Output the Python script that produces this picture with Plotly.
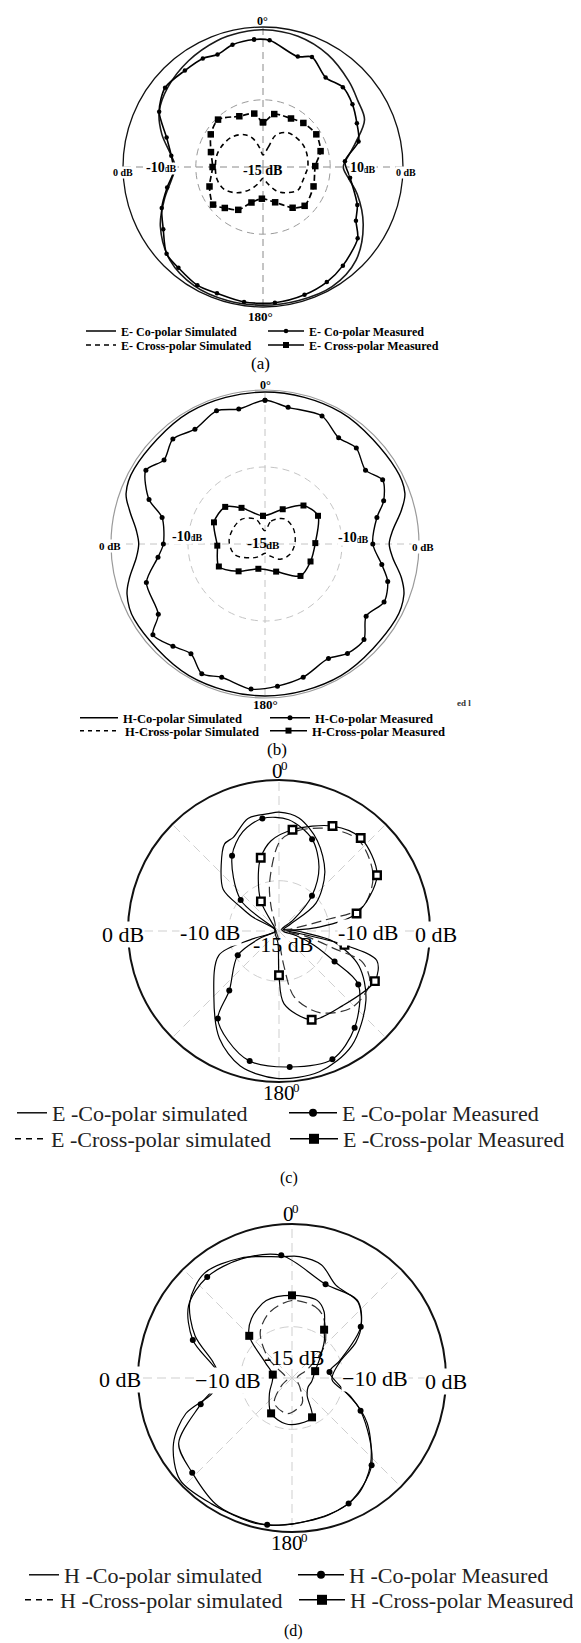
import plotly.graph_objects as go

W, H = 581, 1643
SERIF = "Liberation Serif"

# ---------------- (a) E-plane, values in dB (range -15 .. 0) ----------------
a_co_sim_theta = [0, 15, 30, 45, 55, 65, 75, 82, 90, 98, 106, 120, 135, 150, 165, 180, 195, 210, 225, 240,
                  252, 262, 270, 278, 288, 298, 310, 325, 340, 350, 360]
a_co_sim_db = [-0.3, -0.5, -1.1, -2.0, -2.6, -3.0, -4.7, -5.7, -6.4, -5.7, -4.5, -2.6, -0.9, -0.2, -0.2, -0.2,
               -0.2, -0.3, -0.9, -2.3, -3.9, -5.1, -5.6, -5.0, -3.6, -2.4, -1.7, -1.1, -0.6, -0.4, -0.3]
a_co_meas_theta = [356, 3, 17.5, 24, 35, 45, 55, 65, 75, 86, 97, 112, 120, 127, 141, 151, 162, 175, 188, 200,
                   209, 220, 228, 238, 248, 258, 267, 277, 287, 298, 309, 321, 331, 338, 346, 356]
a_co_meas_db = [-1.3, -1.4, -2.6, -2.1, -3.3, -2.9, -3.3, -3.9, -4.4, -6.2, -5.6, -4.1, -3.5, -2.3, -1.4, -0.9,
                -0.6, -0.4, -0.4, -0.6, -0.5, -0.9, -1.1, -2.4, -3.3, -4.5, -5.4, -5.1, -4.2, -2.4, -1.5, -1.7,
                -1.7, -2.0, -1.5, -1.3]
a_cx_sim_theta = [0, 15, 22, 35, 45, 60, 74, 90, 100, 112, 123, 140, 151, 165, 180, 195, 210, 225, 240, 255,
                  270, 285, 300, 315, 330, 340, 350, 360]
a_cx_sim_db = [-13.7, -12.8, -11.3, -10.5, -10.3, -10.1, -10.1, -10.2, -10.4, -10.5, -10.5, -11.4, -12.1, -13.2,
               -13.8, -13.2, -12.2, -11.1, -10.2, -9.9, -9.9, -9.9, -10.1, -10.4, -11.0, -11.7, -12.9, -13.7]
a_cx_meas_theta = [0, 12, 30, 42.5, 58.5, 74.6, 89, 111, 133, 144, 161, 182, 198, 210, 223, 233, 250, 270, 286,
                   302, 316.5, 335, 350.7, 360]
a_cx_meas_db = [-10.2, -9.2, -9.0, -8.6, -8.3, -8.6, -9.4, -9.2, -8.9, -9.6, -11.0, -11.6, -11.0, -9.7, -9.0,
                -8.3, -8.9, -9.6, -9.2, -8.4, -8.0, -9.0, -9.2, -10.2]

# ---------------- (b) H-plane ----------------
b_co_sim_theta = [0, 30, 60, 70, 76, 84, 90, 96, 104, 110, 120, 150, 180, 210, 240, 250, 256, 264, 270, 276,
                  284, 290, 300, 330, 360]
b_co_sim_db = [-0.2, -0.2, -0.3, -0.5, -1.3, -2.5, -2.9, -2.5, -1.3, -0.6, -0.3, -0.2, -0.2, -0.2, -0.3, -0.7,
               -1.4, -2.4, -2.7, -2.4, -1.4, -0.6, -0.3, -0.2, -0.2]
b_co_meas_theta = [0, 9.6, 24, 34.7, 43.6, 53.7, 61.4, 70, 76.7, 90, 100, 107, 116, 125.5, 134, 143, 151, 164,
                   175, 185.5, 198, 206, 214, 222, 231, 236.6, 252, 263, 270, 284.4, 291, 301.8, 309.8, 318.7,
                   328.6, 340, 349, 360]
b_co_meas_db = [-1.0, -1.5, -1.35, -2.4, -2.1, -2.85, -1.95, -2.7, -3.8, -4.5, -3.45, -2.5, -2.1, -2.9, -1.6,
                -1.65, -2.25, -1.5, -1.1, -0.8, -1.35, -0.95, -2.1, -1.6, -0.95, -2.55, -2.85, -4.5, -5.1,
                -4.65, -2.9, -1.35, -2.2, -1.4, -1.9, -1.2, -1.6, -1.0]
b_cx_sim_theta = [0, 15, 38, 60, 79, 95, 114, 135, 154, 180, 205, 225, 250, 274, 295, 317, 340, 360]
b_cx_sim_db = [-13.7, -12.7, -11.9, -11.85, -12.0, -12.15, -12.4, -12.9, -13.65, -14.1, -13.65, -13.1, -11.9,
               -11.5, -11.55, -11.7, -12.45, -13.7]
b_cx_meas_theta = [356, 27, 45, 62, 89, 111, 132, 158, 195, 224, 244, 268, 293, 313, 327, 356]
b_cx_meas_db = [-12.25, -11.2, -9.7, -9.15, -10.1, -10.25, -10.35, -12.1, -12.5, -11.3, -10.0, -10.35, -9.6,
                -9.7, -10.8, -12.25]

# ---------------- (c) E-plane ----------------
c_co_sim_theta = [0, 10, 23, 38, 53, 59, 70, 80, 94, 101, 113.5, 128.6, 147.7, 164, 181, 196, 209, 224.7, 248,
                  253, 260, 290, 298, 302, 306.6, 318.7, 328, 334, 344.6, 355, 360]
c_co_sim_db = [-3.2, -3.6, -5.25, -7.6, -10.4, -13.65, -14.55, -14.1, -12.4, -9.45, -6.35, -3.95, -1.5, -0.45,
               -0.35, -1.05, -2.8, -5.8, -8.55, -12.0, -14.55, -14.55, -12.0, -10.5, -8.1, -6.3, -4.8, -4.65,
               -3.4, -3.3, -3.2]
c_co_meas_theta = [328, 340, 351.6, 365, 379.8, 392, 403, 412, 420, 455, 465, 472, 478.8, 484, 502, 517.4, 535.5,
                   552.7, 565, 575, 579.9, 599.5, 610, 625, 655, 669, 688]
c_co_meas_db = [-6.2, -4.5, -3.7, -3.9, -5.3, -7.5, -10.2, -13.2, -14.7, -14.55, -13.2, -11.25, -8.7, -5.5, -2.8,
                -1.2, -1.45, -1.75, -3.0, -4.4, -7.3, -10.25, -13.2, -14.7, -14.55, -10.1, -6.2]
c_co_dots_theta = [328, 351.6, 19.8, 43, 118.8, 124, 142, 157.4, 175.5, 192.7, 215, 219.9, 239.5, 309]
c_co_dots_db = [-6.2, -3.7, -5.3, -10.2, -8.7, -5.5, -2.8, -1.2, -1.45, -1.75, -4.4, -7.3, -10.25, -10.1]
c_cx_sim_theta = [0.7, 10.7, 26.6, 41.5, 59.5, 73.8, 76.7, 80, 90, 101, 107.6, 110.5, 120, 136.4, 153.6, 166.9,
                  172, 178, 200, 300, 330, 342, 349, 360.7]
c_cx_sim_db = [-6.05, -4.85, -3.65, -3.0, -4.15, -6.35, -10.5, -13.5, -14.55, -12.35, -9.3, -6.15, -4.6, -4.5,
               -5.95, -8.25, -11.5, -13.8, -14.55, -14.55, -14.25, -12.45, -10.1, -6.05]
c_cx_meas_theta = [328.6, 340, 346, 355, 367.6, 387, 401.3, 420.4, 437.3, 445, 448, 455, 462, 466.8, 477.6, 499.5,
                   519.8, 536, 540, 545, 600, 660, 675, 688.6]
c_cx_meas_db = [-11.55, -9.0, -7.5, -6.0, -4.85, -3.3, -2.7, -3.8, -7.1, -11.25, -14.25, -13.5, -8.35, -4.85,
                -4.25, -5.25, -5.6, -7.75, -10.6, -13.8, -14.55, -14.55, -14.25, -11.55]
c_cx_sq_theta = [328.6, 346, 7.6, 27, 41.3, 60.4, 77.3, 102, 117.6, 159.8, 180]
c_cx_sq_db = [-11.55, -7.5, -4.85, -3.3, -2.7, -3.8, -7.1, -8.35, -4.25, -5.6, -10.6]

# ---------------- (d) H-plane ----------------
d_co_sim_theta = [3.4, 14.5, 25.3, 40.9, 53, 61, 72, 92.4, 107.5, 121, 137.6, 150.6, 165, 182.8, 194, 212.4,
                  227.7, 241, 251.5, 259, 271, 281, 293.5, 306.6, 320, 337, 355, 363.4]
d_co_sim_db = [-3.15, -3.6, -5.0, -5.2, -6.55, -7.9, -10.15, -11.1, -9.0, -6.45, -3.65, -1.95, -1.2, -0.7, -0.4,
               -0.45, -0.25, -1.8, -4.1, -7.05, -7.9, -7.2, -4.7, -2.6, -1.7, -2.3, -3.15, -3.15]
d_co_meas_theta = [355, 379.7, 400, 413.3, 430, 440.8, 460, 475.5, 497.6, 515.7, 532, 549.6, 570, 586.5, 600,
                   614, 630, 651, 665, 680, 697, 715]
d_co_meas_db = [-3.0, -5.3, -5.1, -6.65, -10.05, -11.3, -10.2, -7.6, -3.5, -1.6, -1.05, -0.5, -0.6, -1.6, -2.25,
                -5.75, -7.95, -4.65, -2.7, -2.15, -2.4, -3.0]
d_co_dots_theta = [355, 19.7, 53.3, 80.8, 115.5, 137.6, 155.7, 189.6, 226.5, 254, 291, 320]
d_co_dots_db = [-3.0, -5.3, -6.65, -11.3, -7.6, -3.5, -1.6, -0.5, -1.6, -5.75, -4.65, -2.15]
d_cx_sim_theta = [0, 18, 27, 45, 60, 75, 100, 140, 158, 187, 215, 235, 260, 290, 310, 325, 341, 360]
d_cx_sim_db = [-7.45, -7.7, -8.3, -10.5, -13.2, -14.4, -14.55, -13.8, -12.35, -11.5, -12.0, -13.8, -14.55,
               -14.25, -12.0, -9.6, -8.25, -7.45]
d_cx_meas_theta = [0, 18, 26, 33.6, 41, 55, 73.5, 100, 120, 139, 153, 171, 188, 210.6, 236, 260, 280, 300, 314.6,
                   325.6, 341.6, 360]
d_cx_meas_db = [-6.95, -7.05, -7.85, -9.35, -10.2, -11.7, -12.65, -13.05, -13.2, -12.75, -10.7, -10.5, -10.5,
                -11.0, -12.35, -13.05, -13.1, -12.0, -9.15, -8.0, -7.05, -6.95]
d_cx_sq_theta = [0, 33.6, 73.5, 153, 210.6, 280, 314.6]
d_cx_sq_db = [-6.95, -9.35, -12.65, -10.7, -11.0, -13.1, -9.15]

fig = go.Figure()


def line_tr(theta, r, sub, width=1.4, dash='solid', color='black', smoothing=1.0):
    return go.Scatterpolar(theta=theta, r=r, subplot=sub, mode='lines', showlegend=False, hoverinfo='skip',
                           line=dict(color=color, width=width, dash=dash, shape='spline', smoothing=smoothing))


def mark_tr(theta, r, sub, symbol, size, color='black', lw=0, lc='black'):
    return go.Scatterpolar(theta=theta, r=r, subplot=sub, mode='markers', showlegend=False, hoverinfo='skip',
                           marker=dict(symbol=symbol, size=size, color=color, line=dict(width=lw, color=lc)))


# (a)
fig.add_trace(line_tr(a_co_sim_theta, a_co_sim_db, 'polar', 1.6, color='#1a1a1a'))
fig.add_trace(line_tr(a_co_meas_theta, a_co_meas_db, 'polar', 1.6, smoothing=0.8))
fig.add_trace(mark_tr(a_co_meas_theta, a_co_meas_db, 'polar', 'circle', 4.5))
fig.add_trace(line_tr(a_cx_sim_theta, a_cx_sim_db, 'polar', 1.6, dash='5px,4px'))
fig.add_trace(line_tr(a_cx_meas_theta, a_cx_meas_db, 'polar', 1.7, dash='6px,3px', smoothing=0.7))
fig.add_trace(mark_tr(a_cx_meas_theta, a_cx_meas_db, 'polar', 'square', 6.5))
# (b)
fig.add_trace(line_tr(b_co_sim_theta, b_co_sim_db, 'polar2', 1.4))
fig.add_trace(line_tr(b_co_meas_theta, b_co_meas_db, 'polar2', 1.4, smoothing=0.8))
fig.add_trace(mark_tr(b_co_meas_theta, b_co_meas_db, 'polar2', 'circle', 5))
fig.add_trace(line_tr(b_cx_sim_theta, b_cx_sim_db, 'polar2', 1.4, dash='5px,4px'))
fig.add_trace(line_tr(b_cx_meas_theta, b_cx_meas_db, 'polar2', 1.5, smoothing=0.8))
fig.add_trace(mark_tr(b_cx_meas_theta, b_cx_meas_db, 'polar2', 'square', 6))
# (c)
fig.add_trace(line_tr(c_co_sim_theta, c_co_sim_db, 'polar3', 1.2, smoothing=0.9))
fig.add_trace(line_tr(c_co_meas_theta, c_co_meas_db, 'polar3', 1.2, smoothing=0.9))
fig.add_trace(mark_tr(c_co_dots_theta, c_co_dots_db, 'polar3', 'circle', 6))
fig.add_trace(line_tr(c_cx_sim_theta, c_cx_sim_db, 'polar3', 1.2, dash='10px,5px', color='#333', smoothing=0.9))
fig.add_trace(line_tr(c_cx_meas_theta, c_cx_meas_db, 'polar3', 1.2, smoothing=0.9))
fig.add_trace(mark_tr(c_cx_sq_theta, c_cx_sq_db, 'polar3', 'square', 7.5, color='white', lw=2.4))
# (d)
fig.add_trace(line_tr(d_co_sim_theta, d_co_sim_db, 'polar4', 1.2, smoothing=0.9))
fig.add_trace(line_tr(d_co_meas_theta, d_co_meas_db, 'polar4', 1.2, smoothing=0.9))
fig.add_trace(mark_tr(d_co_dots_theta, d_co_dots_db, 'polar4', 'circle', 6))
fig.add_trace(line_tr(d_cx_sim_theta, d_cx_sim_db, 'polar4', 1.2, dash='10px,5px', color='#333', smoothing=0.9))
fig.add_trace(line_tr(d_cx_meas_theta, d_cx_meas_db, 'polar4', 1.2, smoothing=0.9))
fig.add_trace(mark_tr(d_cx_sq_theta, d_cx_sq_db, 'polar4', 'square', 8))


def polar(cx, cy, R, ring, ang, ring_col, ang_col, gdash, out_col, out_w):
    return dict(
        domain=dict(x=[(cx - R) / W, (cx + R) / W], y=[1 - (cy + R) / H, 1 - (cy - R) / H]),
        bgcolor='rgba(0,0,0,0)',
        radialaxis=dict(range=[-15, 0], tickmode='array', tickvals=ring, showticklabels=False, ticks='',
                        showline=False, showgrid=True, gridcolor=ring_col, griddash=gdash, gridwidth=1,
                        layer='below traces'),
        angularaxis=dict(rotation=90, direction='clockwise', tickmode='array', tickvals=ang,
                         showticklabels=False, ticks='', showgrid=True, gridcolor=ang_col, griddash=gdash,
                         gridwidth=1, showline=True, linecolor=out_col, linewidth=out_w, layer='below traces'),
    )


fig.update_layout(
    polar=polar(255, 159, 140, [-7.8], [0, 90, 180, 270], '#9a9a9a', '#8a8a8a', '7px,5px', '#111', 1.3),
    polar2=polar(257, 536, 154, [-7.5], [0, 90, 180, 270], '#c4c4c4', '#c4c4c4', '7px,5px', '#9a9a9a', 1.2),
    polar3=polar(271, 923, 151, [-10], [0, 45, 90, 135, 180, 225, 270, 315], '#cfcfcf', '#cfcfcf', '9px,5px',
                 '#111', 2),
    polar4=polar(284, 1370, 154, [-10], [0, 45, 90, 135, 180, 225, 270, 315], '#cfcfcf', '#cfcfcf', '9px,5px',
                 '#111', 2),
)

# ---------------- legends ----------------
leg_n = [0]


def legend_entry(name, sub, line_start, y_row, itemwidth, font, line, marker=None):
    leg_n[0] += 1
    key = 'legend' if leg_n[0] == 1 else 'legend%d' % leg_n[0]
    mode = 'lines+markers' if marker else 'lines'
    fig.add_trace(go.Scatterpolar(theta=[None], r=[None], subplot=sub, mode=mode, name=name, legend=key,
                                  showlegend=True, line=line, marker=marker or dict(size=1), hoverinfo='skip'))
    fig.update_layout({key: dict(x=(line_start - 8) / W, y=1 - y_row / H, xanchor='left', yanchor='middle',
                                 itemwidth=itemwidth, font=font, bgcolor='rgba(0,0,0,0)', borderwidth=0,
                                 itemclick=False, itemdoubleclick=False)})


fa = dict(family=SERIF, size=12, color='black', weight='bold')
legend_entry('E- Co-polar Simulated', 'polar', 81, 323, 30, fa, dict(color='black', width=1.6))
legend_entry('E- Co-polar Measured', 'polar', 263, 323, 36, fa, dict(color='black', width=1.6),
             dict(symbol='circle', size=4.5, color='black'))
legend_entry('E- Cross-polar Simulated', 'polar', 81, 337, 30, fa,
             dict(color='black', width=1.6, dash='5px,4px'))
legend_entry('E- Cross-polar Measured', 'polar', 263, 337, 36, fa, dict(color='black', width=1.6),
             dict(symbol='square', size=6, color='black'))

fb = dict(family=SERIF, size=12.5, color='black', weight='bold')
legend_entry('H-Co-polar Simulated', 'polar2', 75, 710, 38, fb, dict(color='black', width=1.5))
legend_entry('H-Co-polar Measured', 'polar2', 265, 710, 40, fb, dict(color='black', width=1.5),
             dict(symbol='circle', size=5, color='black'))
legend_entry('H-Cross-polar Simulated', 'polar2', 75, 723, 40, fb,
             dict(color='black', width=1.5, dash='4px,4px'))
legend_entry('H-Cross-polar Measured', 'polar2', 265, 723, 37, fb, dict(color='black', width=1.5),
             dict(symbol='square', size=6, color='black'))

fc = dict(family=SERIF, size=22, color='#222')
legend_entry('E -Co-polar simulated', 'polar3', 12, 1105, 30, fc, dict(color='black', width=1.4))
legend_entry('E -Co-polar Measured', 'polar3', 284, 1105, 48, fc, dict(color='black', width=1.4),
             dict(symbol='circle', size=8, color='black'))
legend_entry('E -Cross-polar simulated', 'polar3', 10, 1131, 31, fc,
             dict(color='black', width=1.4, dash='6px,5px'))
legend_entry('E -Cross-polar Measured', 'polar3', 285, 1131, 48, fc, dict(color='black', width=1.4),
             dict(symbol='square', size=10, color='black'))

fd = dict(family=SERIF, size=22, color='#222')
legend_entry('H -Co-polar simulated', 'polar4', 24, 1567, 30, fd, dict(color='black', width=1.4))
legend_entry('H -Co-polar Measured', 'polar4', 293, 1567, 46, fd, dict(color='black', width=1.4),
             dict(symbol='circle', size=8, color='black'))
legend_entry('H -Cross-polar simulated', 'polar4', 20, 1592, 30, fd,
             dict(color='black', width=1.4, dash='6px,5px'))
legend_entry('H -Cross-polar Measured', 'polar4', 294, 1592, 46, fd, dict(color='black', width=1.4),
             dict(symbol='square', size=10, color='black'))

# ---------------- text labels ----------------
ann = []


def label(text, x, y, size, bold=False, bg=None, color='black', xanchor='center'):
    d = dict(x=x / W, y=1 - y / H, xref='paper', yref='paper', text=text, showarrow=False,
             font=dict(family=SERIF, size=size, color=color, weight='bold' if bold else 'normal'),
             xanchor=xanchor, yanchor='middle', borderpad=0)
    if bg:
        d['bgcolor'] = bg
    ann.append(d)


def label2(big, small, x, y, s_big, s_small, em_big, em_small, dy_small, bold=False, bg=None, tight=3):
    """A big text followed by a smaller text (unit or superscript), centred on x."""
    w_big, w_small = s_big * em_big, s_small * em_small
    split = x - (w_big + w_small) / 2 + w_big
    label(small, split - tight, y + dy_small, s_small, bold, bg, xanchor='left')
    label(big, split, y, s_big, bold, bg, xanchor='right')


# (a)
label('0°', 254.7, 13, 12, True)
label('180°', 252, 308, 13, True)
label('0 dB', 115, 164, 10, True, 'white')
label2('-10', 'dB', 155, 159, 14, 10, 1.333, 1.223, 1.5, True, 'white')
label('-15 dB', 254, 163, 14, True)
label2('10', 'dB', 356, 160, 14, 10, 1.0, 1.223, 1.5, True, 'white')
label('0 dB', 398, 164, 10, True, 'white')
label('(a)', 252.5, 355, 17)
# (b)
label('0°', 257, 377, 12, True)
label('180°', 257, 697, 13, True)
label('0 dB', 102.4, 538, 11, True, 'white')
label2('-10', 'dB', 180.6, 528.3, 14, 10, 1.333, 1.223, 1.5, True, 'white')
label2('-15', 'dB', 257, 535, 15, 11, 1.333, 1.223, 1.5, True)
label2('-10', 'dB', 346.4, 530, 14, 10, 1.333, 1.223, 1.5, True, 'white')
label('0 dB', 415.3, 539.3, 11, True, 'white')
label('ed l', 456, 695, 9, True, color='#333')
label('(b)', 269, 741.7, 17)
# (c)
label2('0', '0', 273.7, 763.3, 21, 13, 0.5, 0.5, -6, tight=4)
label2('180', '0', 275.6, 1085, 21, 13, 1.5, 0.5, -6, tight=4)
label('0 dB', 114.7, 926.7, 22, bg='white')
label('-10 dB', 202, 924, 22, bg='white')
label('-15 dB', 275.6, 936.7, 22)
label('-10 dB', 360.5, 924, 22, bg='white')
label('0 dB', 428.3, 926.7, 22, bg='white')
label('(c)', 281, 1170, 16)
# (d)
label2('0', '0', 285, 1206, 21, 13, 0.5, 0.5, -6, tight=4)
label2('180', '0', 283, 1535, 21, 13, 1.5, 0.5, -6, tight=4)
label('0 dB', 111.7, 1371.7, 22, bg='white')
label('\u221210 dB', 219.7, 1372.7, 22, bg='white')
label('-15 dB', 286.8, 1349, 22)
label('\u221210 dB', 366.8, 1370, 22, bg='white')
label('0 dB', 437.6, 1373.3, 22, bg='white')
label('(d)', 285, 1623.3, 16)

fig.update_layout(width=W, height=H, margin=dict(l=0, r=0, t=0, b=0), paper_bgcolor='white',
                  plot_bgcolor='white', showlegend=True, annotations=ann)

fig.write_html("out.html")
